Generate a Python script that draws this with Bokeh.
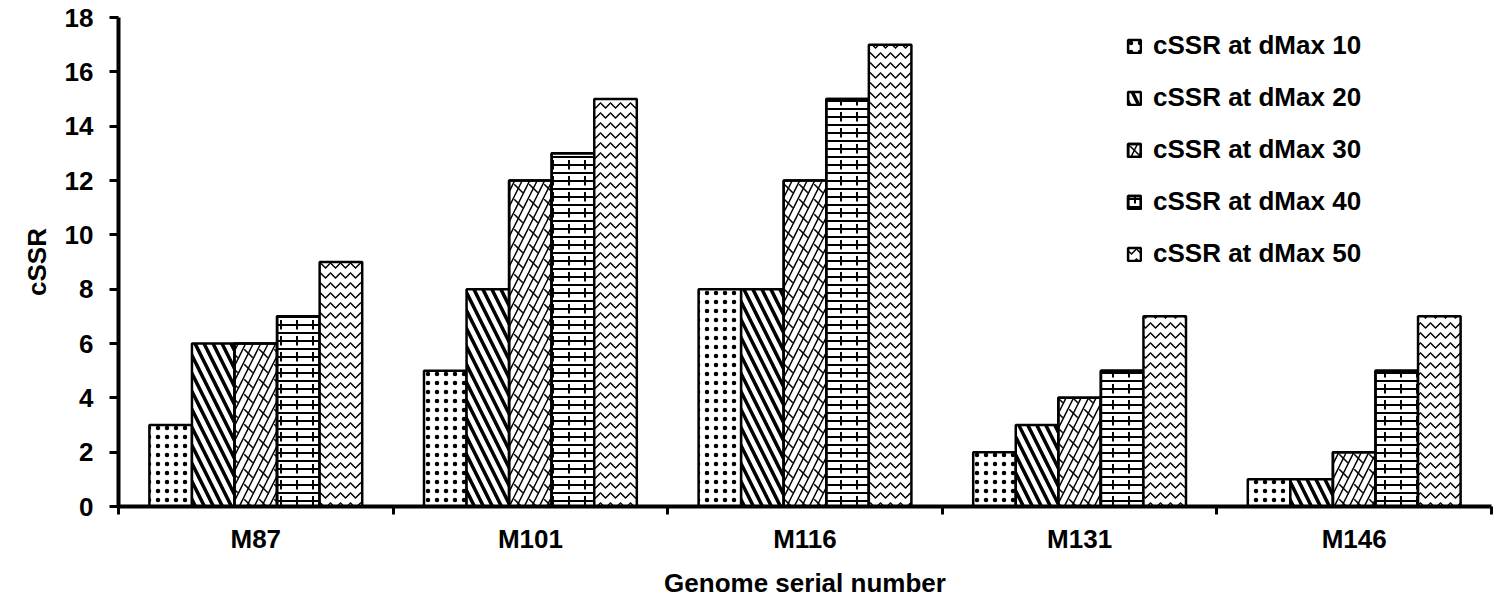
from bokeh.plotting import figure
from bokeh.models import (ColumnDataSource, FixedTicker, Legend, LegendItem, Range1d)
from bokeh.transform import dodge
from bokeh.embed import file_html
from bokeh.resources import INLINE

categories = ["M87", "M101", "M116", "M131", "M146"]
dmax10 = [3, 5, 8, 2, 1]
dmax20 = [6, 8, 8, 3, 1]
dmax30 = [6, 12, 12, 4, 2]
dmax40 = [7, 13, 15, 5, 5]
dmax50 = [9, 15, 17, 7, 7]
series_names = ["cSSR at dMax 10", "cSSR at dMax 20", "cSSR at dMax 30",
                "cSSR at dMax 40", "cSSR at dMax 50"]
y_ticks = [0, 2, 4, 6, 8, 10, 12, 14, 16, 18]

xpos = [i + 0.5 for i in range(len(categories))]
src = ColumnDataSource(dict(x=xpos, s1=dmax10, s2=dmax20, s3=dmax30, s4=dmax40, s5=dmax50))

FONT = "Liberation Sans"

p = figure(width=1493, height=600, output_backend="svg", toolbar_location=None,
           x_range=Range1d(0, len(categories)), y_range=Range1d(0, 18),
           min_border_left=118, min_border_top=17, min_border_bottom=88, min_border_right=2)
p.outline_line_color = None
p.xgrid.grid_line_color = None
p.ygrid.grid_line_color = None
p.background_fill_color = "white"

bw = 0.155
offs = [-2 * bw, -bw, 0, bw, 2 * bw]
common = dict(width=bw, source=src, fill_color="white", line_color="black", line_width=2.5,
              hatch_color="black")
overlay = dict(width=bw, source=src, fill_alpha=0, line_color="black", line_width=2.5,
               hatch_color="black")

r1 = p.vbar(x=dodge("x", offs[0]), top="s1", hatch_pattern="dot", hatch_scale=9, hatch_weight=1, **common)
r2 = p.vbar(x=dodge("x", offs[1]), top="s2", hatch_pattern="left_diagonal_line", hatch_scale=18, hatch_weight=3.5, **common)
r3a = p.vbar(x=dodge("x", offs[2]), top="s3", hatch_pattern="right_diagonal_line", hatch_scale=15, hatch_weight=1.5, **common)
r3b = p.vbar(x=dodge("x", offs[2]), top="s3", hatch_pattern="left_diagonal_dash", hatch_scale=15, hatch_weight=1.5, **overlay)
r4a = p.vbar(x=dodge("x", offs[3]), top="s4", hatch_pattern="horizontal_line", hatch_scale=8, hatch_weight=2, **common)
r4b = p.vbar(x=dodge("x", offs[3]), top="s4", hatch_pattern="vertical_dash", hatch_scale=16, hatch_weight=2, **overlay)
r5 = p.vbar(x=dodge("x", offs[4]), top="s5", hatch_pattern="horizontal_wave", hatch_scale=10, hatch_weight=1.5, **common)

# axes
p.xaxis.ticker = FixedTicker(ticks=xpos, minor_ticks=list(range(len(categories) + 1)))
p.xaxis.major_label_overrides = {x: c for x, c in zip(xpos, categories)}
p.xaxis.major_tick_line_color = None
p.xaxis.minor_tick_line_color = "black"
p.xaxis.minor_tick_line_width = 3
p.xaxis.minor_tick_out = 8
p.xaxis.minor_tick_in = 0
p.xaxis.major_tick_out = 8
p.xaxis.major_tick_in = 0
p.xaxis.axis_line_width = 4
p.xaxis.axis_line_color = "black"
p.xaxis.major_label_text_color = "black"
p.xaxis.major_label_text_font = FONT
p.xaxis.major_label_text_font_style = "bold"
p.xaxis.major_label_text_font_size = "26px"
p.xaxis.major_label_standoff = 9
p.xaxis.axis_label = "Genome serial number"
p.xaxis.axis_label_text_color = "black"
p.xaxis.axis_label_text_font = FONT
p.xaxis.axis_label_text_font_style = "bold"
p.xaxis.axis_label_text_font_size = "26px"
p.xaxis.axis_label_standoff = 11

p.yaxis.ticker = FixedTicker(ticks=y_ticks)
p.yaxis.minor_tick_line_color = None
p.yaxis.major_tick_line_width = 3
p.yaxis.major_tick_out = 9
p.yaxis.major_tick_in = 0
p.yaxis.axis_line_width = 4
p.yaxis.axis_line_color = "black"
p.yaxis.major_label_text_color = "black"
p.yaxis.major_label_text_font = FONT
p.yaxis.major_label_text_font_style = "bold"
p.yaxis.major_label_text_font_size = "26px"
p.yaxis.major_label_standoff = 16
p.yaxis.axis_label = "cSSR"
p.yaxis.axis_label_text_color = "black"
p.yaxis.axis_label_text_font = FONT
p.yaxis.axis_label_text_font_style = "bold"
p.yaxis.axis_label_text_font_size = "26px"
p.yaxis.axis_label_standoff = 10

items = [LegendItem(label=series_names[0], renderers=[r1]),
         LegendItem(label=series_names[1], renderers=[r2]),
         LegendItem(label=series_names[2], renderers=[r3a, r3b]),
         LegendItem(label=series_names[3], renderers=[r4a, r4b]),
         LegendItem(label=series_names[4], renderers=[r5])]
legend = Legend(items=items, location=(1008, 237), border_line_color=None,
                background_fill_alpha=0, label_text_font=FONT, label_text_font_style="bold",
                label_text_font_size="26px", label_text_color="black",
                glyph_width=16, glyph_height=16,
                spacing=21, label_standoff=11, margin=0, padding=0)
p.add_layout(legend)

open("out.html", "w").write(file_html(p, INLINE))
